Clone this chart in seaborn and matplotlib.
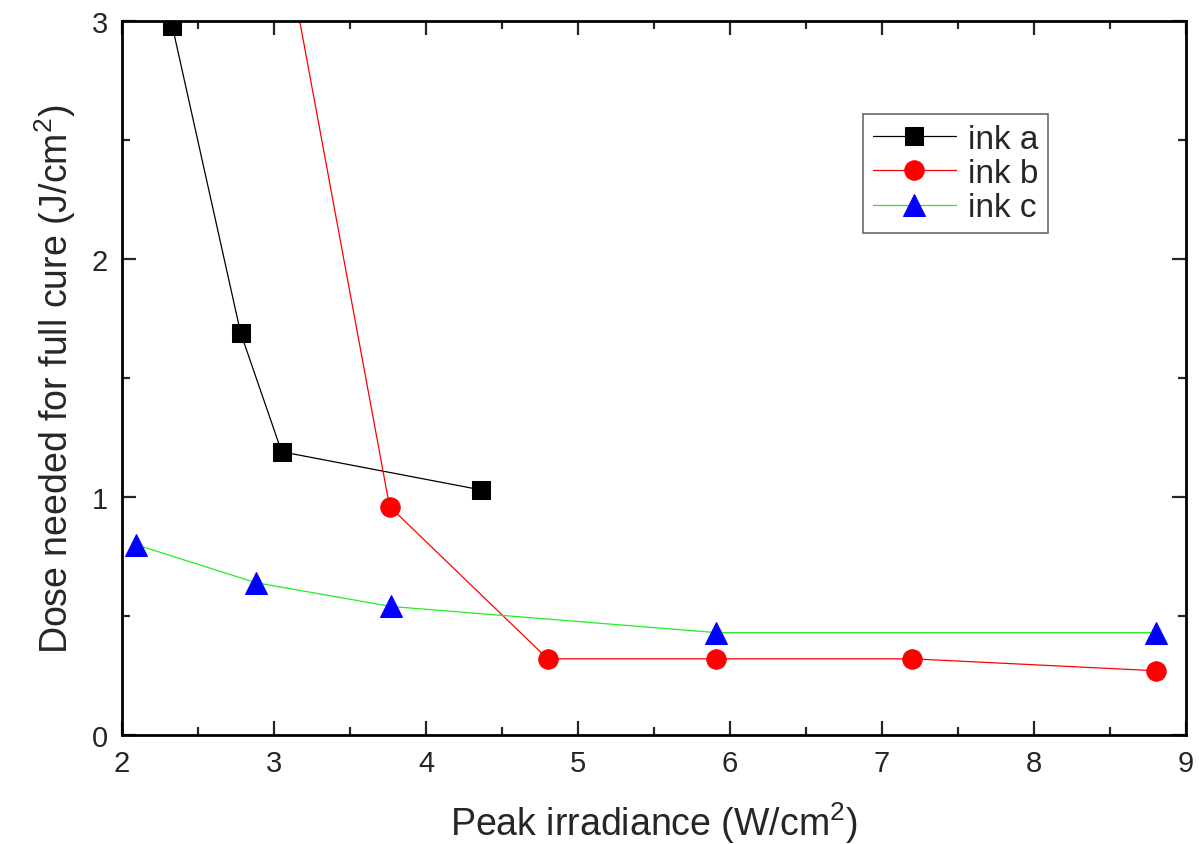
import numpy as np
import pandas as pd
import matplotlib
matplotlib.use('Agg')
import matplotlib.pyplot as plt
import seaborn as sns

# data
ink_a_x = [2.33, 2.78, 3.05, 4.36]
ink_a_y = [2.98, 1.69, 1.19, 1.03]

ink_b_x = [3.05, 3.76, 4.80, 5.91, 7.20, 8.80]
ink_b_y = [3.41, 0.96, 0.32, 0.32, 0.32, 0.27]

ink_c_x = [2.09, 2.88, 3.77, 5.91, 8.80]
ink_c_y = [0.80, 0.64, 0.54, 0.43, 0.43]

x_ticks = [2, 3, 4, 5, 6, 7, 8, 9]
y_ticks = [0, 1, 2, 3]

sns.set_style('ticks')
plt.rcParams['font.family'] = ['Liberation Sans', 'DejaVu Sans']
plt.rcParams['mathtext.fontset'] = 'custom'
plt.rcParams['mathtext.rm'] = 'Liberation Sans'
plt.rcParams['mathtext.it'] = 'Liberation Sans:italic'

fig = plt.figure(figsize=(11.99, 8.45), dpi=100)
ax = fig.add_axes([0.1018, 0.129, 0.8874, 0.845])

sns.lineplot(x=ink_a_x, y=ink_a_y, ax=ax, color='black', lw=0.9, marker='s',
             markersize=13, markerfacecolor='black', markeredgecolor='black',
             label='ink a', sort=False)
sns.lineplot(x=ink_b_x, y=ink_b_y, ax=ax, color='red', lw=0.9, marker='o',
             markersize=14, markerfacecolor='red', markeredgecolor='red',
             label='ink b', sort=False)
sns.lineplot(x=ink_c_x, y=ink_c_y, ax=ax, color='#22ee22', lw=0.9, marker='^',
             markersize=16, markerfacecolor='blue', markeredgecolor='blue',
             label='ink c', sort=False)

ax.set_xlim(2, 9)
ax.set_ylim(0, 3)
ax.set_xticks(x_ticks)
ax.set_yticks(y_ticks)
ax.set_xticks(np.arange(2.5, 9, 1), minor=True)
ax.set_yticks(np.arange(0.5, 3, 1), minor=True)
ax.tick_params(which='both', direction='in', top=True, right=True, width=1.6,
               labelsize=21, pad=10)
ax.tick_params(which='major', length=10)
ax.tick_params(which='minor', length=6)
for s in ax.spines.values():
    s.set_visible(True)
    s.set_linewidth(2)
    s.set_color('black')

ax.set_xlabel('Peak irradiance (W/cm$^2$)', fontsize=27, labelpad=16)
ax.set_ylabel('Dose needed for full cure (J/cm$^2$)', fontsize=27, labelpad=10)

leg = ax.legend(loc='upper left', bbox_to_anchor=(0.696, 0.87), fontsize=24,
                frameon=True, fancybox=False, edgecolor='#444444',
                handlelength=2.5, handletextpad=0.35, borderpad=0.3,
                labelspacing=0.1, borderaxespad=0)
leg.get_frame().set_linewidth(1.2)

fig.savefig('out.png', dpi=100)
